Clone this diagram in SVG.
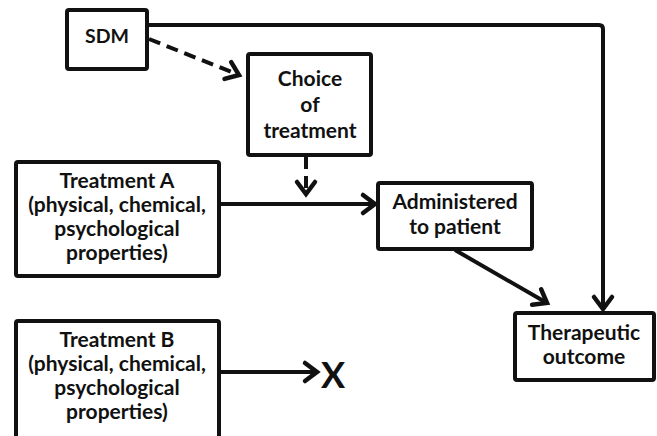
<svg xmlns="http://www.w3.org/2000/svg" width="657" height="436" viewBox="0 0 657 436">
<style>
.box{fill:#fff;stroke:#111;stroke-width:4}
.t{font-family:Lato,"Open Sans","Liberation Sans",sans-serif;font-weight:bold;font-size:21px;fill:#111;text-anchor:middle}
.c{fill:none;stroke:#111;stroke-width:4}
.d{stroke-dasharray:12 7}
</style>
<defs>
<marker id="ah" markerUnits="userSpaceOnUse" viewBox="-16 -12 20 24" refX="0" refY="0" markerWidth="20" markerHeight="24" orient="auto" overflow="visible">
<path d="M-12,-9 L0,0 L-12,9" fill="none" stroke="#111" stroke-width="4.5" stroke-linecap="round" stroke-linejoin="miter"/>
</marker>
</defs>
<rect width="657" height="436" fill="#fff"/>
<g id="connectors">
<path class="c" d="M148,25 H599 Q603,25 603,29 V309" marker-end="url(#ah)"/>
<path class="c d" d="M149,39 L239,75" marker-end="url(#ah)"/>
<path class="c d" d="M306,157 V194" marker-end="url(#ah)"/>
<path class="c" d="M221,204 H375" marker-end="url(#ah)"/>
<path class="c" d="M455,250 L547,303" marker-end="url(#ah)"/>
<path class="c" d="M221,372 H317" marker-end="url(#ah)"/>
</g>
<g id="sdm"><rect class="box" x="67" y="10" width="80" height="59" rx="2"/><text class="t" x="107" y="43" style="font-size:19.5px">SDM</text></g>
<g id="choice"><rect class="box" x="248" y="54" width="123" height="101" rx="2"/>
<text class="t" x="310" y="86">Choice</text><text class="t" x="310" y="112">of</text><text class="t" x="310" y="138">treatment</text></g>
<g id="treatmentA"><rect class="box" x="16" y="162" width="203" height="114" rx="2"/>
<text class="t" x="117" y="188">Treatment A</text><text class="t" x="117" y="212">(physical, chemical,</text><text class="t" x="117" y="236">psychological</text><text class="t" x="117" y="260">properties)</text></g>
<g id="administered"><rect class="box" x="378" y="183" width="154" height="66" rx="2"/>
<text class="t" x="455" y="209">Administered</text><text class="t" x="455" y="234">to patient</text></g>
<g id="outcome"><rect class="box" x="515" y="313" width="139" height="67" rx="2"/>
<text class="t" x="584" y="340">Therapeutic</text><text class="t" x="584" y="364">outcome</text></g>
<g id="treatmentB"><rect class="box" x="16" y="321" width="203" height="130" rx="2"/>
<text class="t" x="117" y="347">Treatment B</text><text class="t" x="117" y="371">(physical, chemical,</text><text class="t" x="117" y="395">psychological</text><text class="t" x="117" y="419">properties)</text></g>
<g id="x"><text class="t" x="333" y="388" style="font-size:36px">X</text></g>
</svg>
